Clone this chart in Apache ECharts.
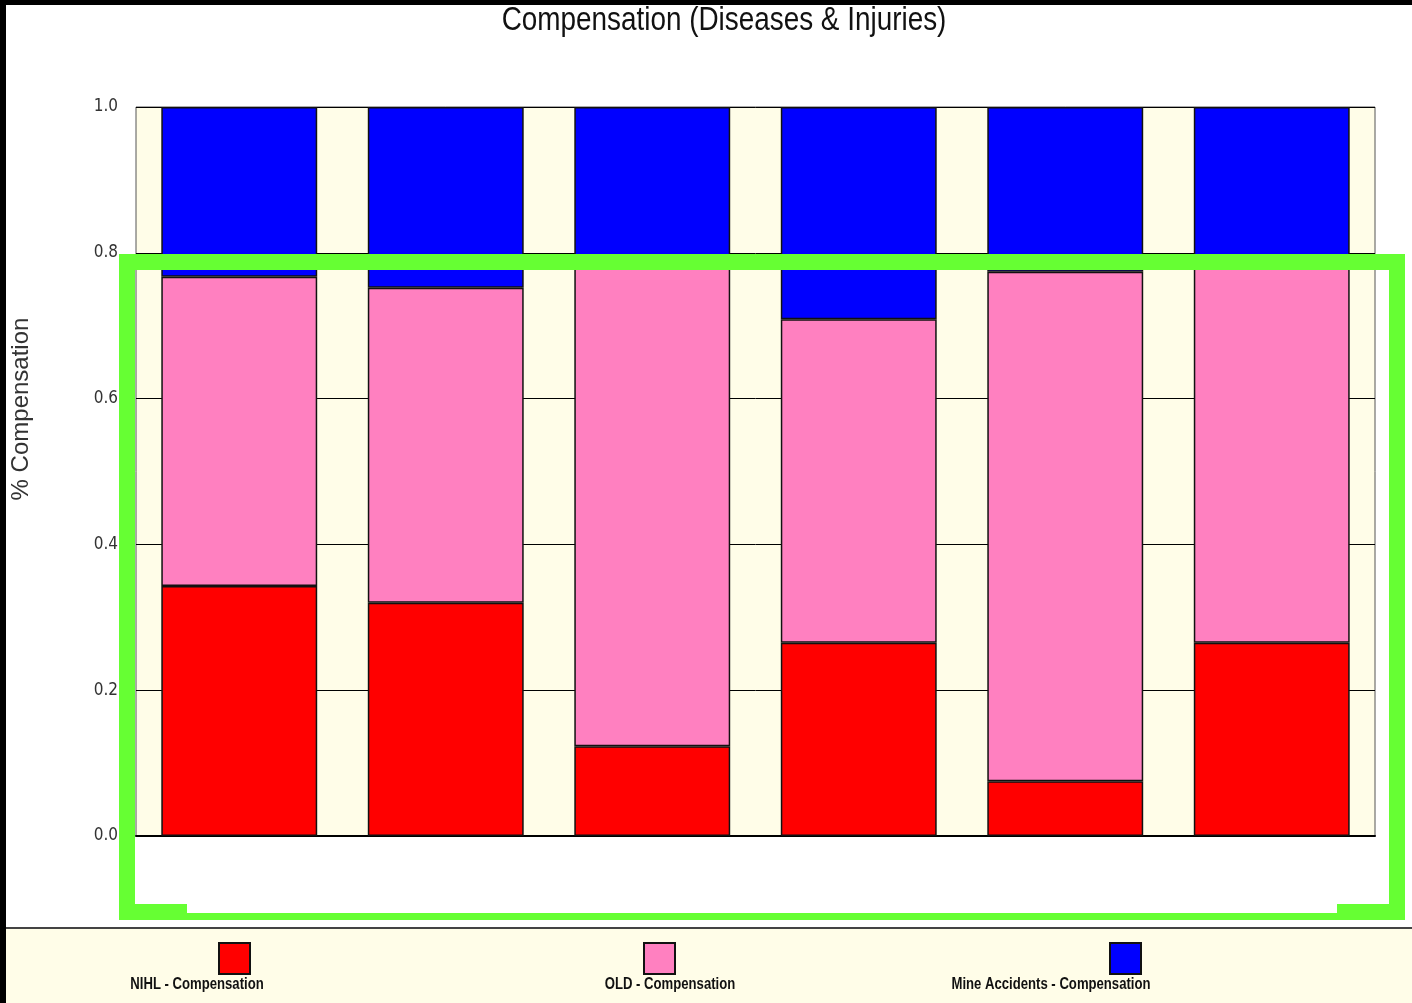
<!DOCTYPE html>
<html>
<head>
<meta charset="utf-8">
<title>Compensation (Diseases & Injuries)</title>
<script src="https://cdn.jsdelivr.net/npm/echarts@6/dist/echarts.min.js"></script>
<style>
  html, body { margin: 0; padding: 0; background: #ffffff; }
  #chart { width: 1412px; height: 1003px; }
</style>
</head>
<body>
<div id="chart"></div>
<script>
// Six reporting groups; axis labels are hidden under the white panel
const categories = ['G1', 'G2', 'G3', 'G4', 'G5', 'G6'];

// Share of compensation per group (stacked to 1.0)
const nihlShare = [0.343, 0.320, 0.123, 0.265, 0.075, 0.265];
const oldShare  = [0.424, 0.432, 0.667, 0.444, 0.699, 0.520];
const mineShare = [0.233, 0.248, 0.210, 0.291, 0.226, 0.215];

const seriesNames = ['NIHL - Compensation', 'OLD - Compensation', 'Mine Accidents - Compensation'];
const seriesColors = ['#ff0000', '#ff80c0', '#0000ff'];

const yTicks = [0, 0.2, 0.4, 0.6, 0.8, 1.0];

// Narrow look: Arial-metric face squeezed horizontally
const SANS = '"Liberation Sans", Arial, sans-serif';
const NARROW_SCALE = 0.82;
const CONDENSED = '"DejaVu Sans Condensed", "Liberation Sans", sans-serif';
const CREAM = '#fffde8';

const chart = echarts.init(document.getElementById('chart'), null, { renderer: 'canvas' });

function barSeries(name, data, color) {
  return {
    name: name,
    type: 'bar',
    stack: 'share',
    data: data,
    barWidth: '75.5%',
    itemStyle: { color: color, borderColor: '#111', borderWidth: 1.5 },
    emphasis: { disabled: true },
    z: 3
  };
}

function narrowText(text, x, y, size, weight) {
  return {
    type: 'text', x: x, y: y, scaleX: NARROW_SCALE,
    style: {
      text: text, fontFamily: SANS, fontSize: size, fontWeight: weight,
      fill: '#111', align: 'center', verticalAlign: 'middle'
    },
    z: 10
  };
}

// Legend swatches: one legend block per series, text drawn underneath
const legendSwatches = [
  { name: seriesNames[0], left: 213 },
  { name: seriesNames[1], left: 638 },
  { name: seriesNames[2], left: 1104 }
];
const legendTexts = [
  { text: seriesNames[0], x: 197 },
  { text: seriesNames[1], x: 670 },
  { text: seriesNames[2], x: 1051 }
];

const option = {
  animation: false,
  backgroundColor: '#ffffff',
  grid: {
    left: 136, right: 37, top: 107, bottom: 167,
    show: true,
    backgroundColor: CREAM,
    borderColor: '#555',
    borderWidth: 1
  },
  legend: legendSwatches.map(s => ({
    data: [s.name],
    left: s.left,
    top: 937,
    icon: 'rect',
    itemWidth: 31,
    itemHeight: 31,
    selectedMode: false,
    formatter: () => '',
    textStyle: { fontSize: 1 }
  })),
  xAxis: {
    type: 'category',
    data: categories,
    axisLine: { show: true, lineStyle: { color: '#000', width: 2 } },
    axisTick: { show: false },
    axisLabel: { show: false },
    splitLine: { show: false }
  },
  yAxis: {
    type: 'value',
    min: 0,
    max: 1,
    interval: 0.2,
    axisLine: { show: false },
    axisTick: { show: false },
    axisLabel: {
      margin: 18,
      padding: [4, 0, 0, 0],
      fontFamily: CONDENSED,
      fontSize: 17,
      color: '#333',
      formatter: v => yTicks.includes(Math.round(v * 10) / 10) ? v.toFixed(1) : ''
    },
    splitLine: { show: true, lineStyle: { color: '#000', width: 1 } }
  },
  series: [
    barSeries(seriesNames[0], nihlShare, seriesColors[0]),
    barSeries(seriesNames[1], oldShare, seriesColors[1]),
    barSeries(seriesNames[2], mineShare, seriesColors[2])
  ],
  graphic: [
    // outer frame edges
    { type: 'rect', shape: { x: 0, y: 0, width: 1412, height: 5 }, style: { fill: '#000' }, z: 100 },
    { type: 'rect', shape: { x: 0, y: 0, width: 6, height: 1003 }, style: { fill: '#000' }, z: 100 },
    // legend band
    { type: 'rect', shape: { x: 6, y: 928, width: 1406, height: 75 }, style: { fill: CREAM }, z: -1 },
    { type: 'line', shape: { x1: 6, y1: 928, x2: 1412, y2: 928 }, style: { stroke: '#444', lineWidth: 2 }, z: 10 },
    // chart title
    narrowText('Compensation (Diseases & Injuries)', 724, 21, 34, 'normal'),
    // y-axis title
    {
      type: 'text', x: 21, y: 409, rotation: Math.PI / 2,
      style: {
        text: '% Compensation', fontFamily: SANS, fontSize: 24,
        fill: '#333', align: 'center', verticalAlign: 'middle'
      },
      z: 10
    },
    // highlight box
    {
      type: 'rect', shape: { x: 127, y: 262, width: 1270, height: 650 },
      style: { fill: null, stroke: '#66ff33', lineWidth: 16 }, z: 50
    },
    // panel over the category labels
    { type: 'rect', shape: { x: 187, y: 837, width: 1150, height: 76 }, style: { fill: '#ffffff' }, z: 60 }
  ].concat(legendTexts.map(t => narrowText(t.text, t.x, 985, 16, 'bold')))
};

chart.setOption(option);
</script>
</body>
</html>
